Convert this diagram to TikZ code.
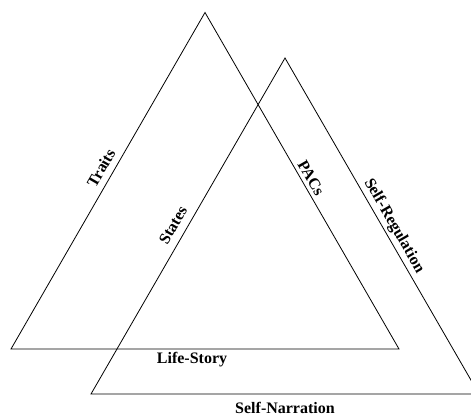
\documentclass[tikz,border=0pt]{standalone}
\usepackage{fontspec}
\setmainfont{Liberation Serif}
\begin{document}
\begin{tikzpicture}[x=1pt,y=-1pt,
  edge/.style={line width=0.8pt, line join=miter},
  lbl/.style={font=\fontsize{16}{18}\selectfont\bfseries, inner sep=0pt}]
\useasboundingbox (0,0) rectangle (471,416);
\clip (0,0) rectangle (471,416);
% first triangle
\coordinate (A1) at (205,12.5);
\coordinate (B1) at (11,349);
\coordinate (C1) at (399,349);
% second triangle
\coordinate (A2) at (285,58);
\coordinate (B2) at (91,394);
\coordinate (C2) at (479,394);
\draw[edge] (A1) -- (B1) -- (C1) -- cycle;
\draw[edge] (A2) -- (B2) -- (C2) -- cycle;
% edge labels
\node[lbl, rotate=60]  (traits) at (101,168) {Traits};
\node[lbl, rotate=-60] (pacs)   at (311,178) {PACs};
\node[lbl, rotate=60]  (states) at (173,225) {States};
\node[lbl, rotate=-60] (selfreg) at (394,226) {Self-Regulation};
\node[lbl] (lifestory) at (192,360) {Life-Story};
\node[lbl] (selfnarr)  at (285,407.5) {Self-Narration};
\end{tikzpicture}
\end{document}
